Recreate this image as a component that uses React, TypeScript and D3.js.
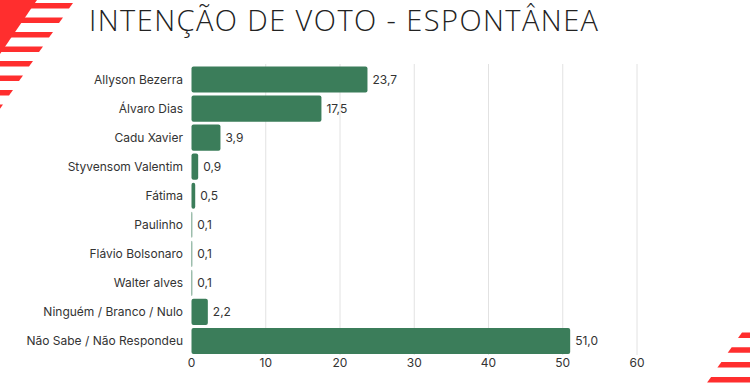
import * as d3 from 'd3';
import { useEffect, useRef } from 'react';

const candidates = [
  'Allyson Bezerra',
  'Álvaro Dias',
  'Cadu Xavier',
  'Styvensom Valentim',
  'Fátima',
  'Paulinho',
  'Flávio Bolsonaro',
  'Walter alves',
  'Ninguém / Branco / Nulo',
  'Não Sabe / Não Respondeu',
];
const votes = [23.7, 17.5, 3.9, 0.9, 0.5, 0.1, 0.1, 0.1, 2.2, 51.0];
const xTicks = [0, 10, 20, 30, 40, 50, 60];
const title = 'INTENÇÃO DE VOTO - ESPONTÂNEA';

export default function App() {
  const svgRef = useRef<SVGSVGElement>(null);

  const width = 750;
  const height = 384;

  useEffect(() => {
    const svg = d3.select(svgRef.current);
    svg.selectAll('*').remove();

    const red = '#ff2e2e';

    // top-left decoration
    svg.append('path')
      .attr('d', 'M0,0 L37,0 L0,54 Z')
      .attr('fill', red);
    d3.range(8).forEach(i => {
      const y0 = 3 + i * 14.5;
      const xr = 73 - i * 10;
      svg.append('path')
        .attr('d', `M0,${y0} L${xr},${y0} L${xr - 4},${y0 + 5.5} L0,${y0 + 5.5} Z`)
        .attr('fill', red);
    });

    // bottom-right decoration
    d3.range(4).forEach(i => {
      const y0 = 332.5 + i * 14.8;
      const xl = 742 - i * 10.3;
      svg.append('path')
        .attr('d', `M${xl},${y0} L${width},${y0} L${width},${y0 + 5.5} L${xl - 4},${y0 + 5.5} Z`)
        .attr('fill', red);
    });

    svg.append('text')
      .attr('x', 89)
      .attr('y', 30.5)
      .attr('textLength', 509)
      .attr('lengthAdjust', 'spacing')
      .attr('font-family', '"Open Sans", Lato, sans-serif')
      .attr('font-weight', 300)
      .attr('font-size', 29)
      .attr('fill', '#222')
      .text(title);

    const x = d3.scaleLinear().domain([0, 60]).range([191.5, 637]);
    const y = d3.scaleBand<string>()
      .domain(candidates)
      .range([65, 355.5])
      .paddingInner(0.1)
      .paddingOuter(0.05);

    const font = 'Inter, Roboto, sans-serif';

    // grid
    svg.append('g')
      .selectAll('line')
      .data(xTicks.slice(1))
      .enter()
      .append('line')
      .attr('x1', d => x(d))
      .attr('x2', d => x(d))
      .attr('y1', 64)
      .attr('y2', 355)
      .attr('stroke', '#e2e2e2')
      .attr('stroke-width', 1);

    // tick labels
    svg.append('g')
      .selectAll('text')
      .data(xTicks)
      .enter()
      .append('text')
      .attr('x', d => x(d))
      .attr('y', 367)
      .attr('text-anchor', 'middle')
      .attr('font-family', font)
      .attr('font-size', 12)
      .attr('fill', '#333')
      .text(d => d);

    // bars
    svg.append('g')
      .selectAll('rect')
      .data(votes)
      .enter()
      .append('rect')
      .attr('x', x(0))
      .attr('y', (d, i) => y(candidates[i])!)
      .attr('width', d => x(d) - x(0))
      .attr('height', y.bandwidth())
      .attr('rx', 2)
      .attr('fill', '#3b7d5a');

    // category labels
    svg.append('g')
      .selectAll('text')
      .data(candidates)
      .enter()
      .append('text')
      .attr('x', 183)
      .attr('y', d => y(d)! + y.bandwidth() / 2)
      .attr('dy', '0.35em')
      .attr('text-anchor', 'end')
      .attr('font-family', font)
      .attr('font-size', 12)
      .attr('fill', '#333')
      .text(d => d);

    // value labels
    svg.append('g')
      .selectAll('text')
      .data(votes)
      .enter()
      .append('text')
      .attr('x', d => x(d) + 5)
      .attr('y', (d, i) => y(candidates[i])! + y.bandwidth() / 2)
      .attr('dy', '0.35em')
      .attr('font-family', font)
      .attr('font-size', 12)
      .attr('fill', '#333')
      .text(d => d.toFixed(1).replace('.', ','));
  }, []);

  return (
    <svg
      ref={svgRef}
      width={width}
      height={height}
      style={{ position: 'absolute', left: 0, top: 0, background: '#fff' }}
    />
  );
}
